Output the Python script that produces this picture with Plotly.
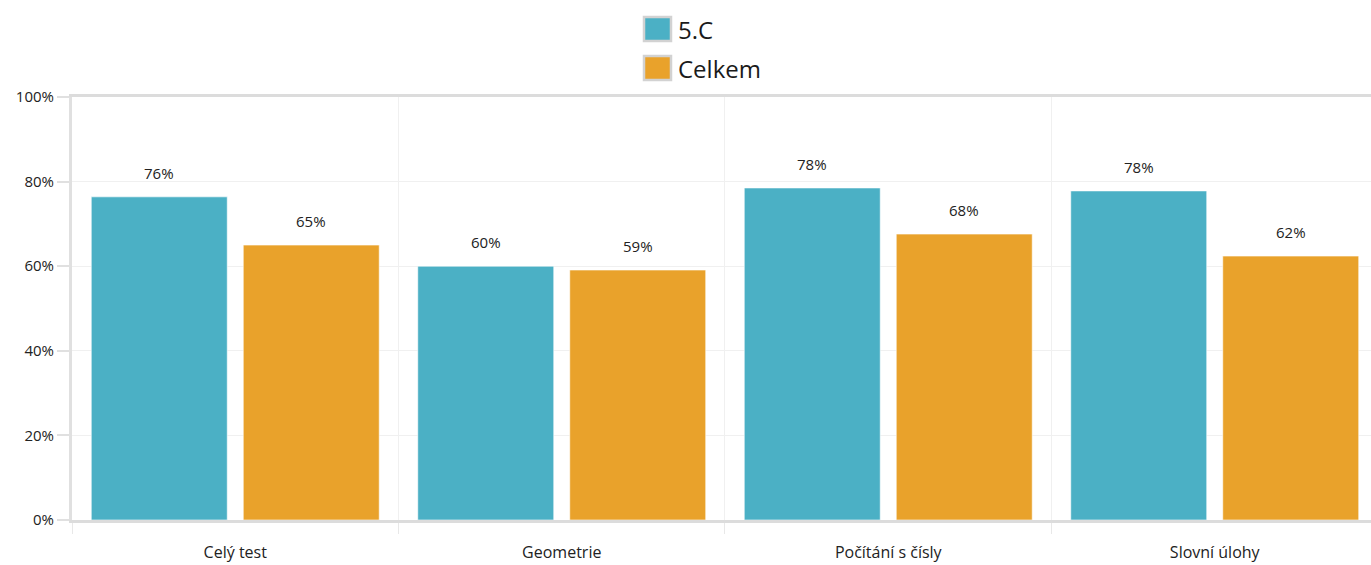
import plotly.graph_objects as go

categories = ["Celý test", "Geometrie", "Počítání s čísly", "Slovní úlohy"]
series_names = ["5.C", "Celkem"]
values_5c = [76.4, 60.0, 78.5, 77.8]
values_celkem = [65.0, 59.1, 67.6, 62.4]
y_ticks = [0, 20, 40, 60, 80, 100]
y_tick_labels = ["0%", "20%", "40%", "60%", "80%", "100%"]

colors = ["#4BB0C5", "#E9A22B"]
FONT = "'Open Sans', 'Noto Sans', sans-serif"

W, H = 1371, 565
L, R, T, B = 72, 0, 97, 45
PW, PH = W - L - R, H - T - B
X_MAX = 3.4786                      # plot is cut at the right edge
CAT_W = PW / (X_MAX + 0.5)          # pixels per category
BAR_W = 0.4165                      # bar width in category units
BAR_OFFSETS = [-0.441, 0.0245]      # bar left edges relative to category centre


def px_x(X):
    return (X - L) / PW


def px_y(Y):
    return 1 - (Y - T) / PH


fig = go.Figure()
annotations = []
for name, vals, col, off in zip(series_names, [values_5c, values_celkem], colors, BAR_OFFSETS):
    fig.add_trace(go.Bar(
        x=categories, y=vals, name=name,
        width=BAR_W, offset=off,
        marker=dict(color=col, line=dict(color="rgba(255,255,255,0.6)", width=1)),
        hoverinfo="skip",
        showlegend=False,
    ))
    shift = (off + BAR_W / 2) * CAT_W
    for c, v in zip(categories, vals):
        annotations.append(dict(
            x=c, y=v, xref="x", yref="y", text=f"{round(v)}%",
            showarrow=False, xshift=shift, yshift=24, yanchor="middle",
            font=dict(family=FONT, size=15, color="#222"),
        ))

# legend drawn at top centre
shapes = []
for i, (name, col) in enumerate(zip(series_names, colors)):
    cy = 29 + i * 39
    shapes.append(dict(
        type="rect", xref="paper", yref="paper",
        x0=px_x(644), x1=px_x(671), y0=px_y(cy - 12), y1=px_y(cy + 12),
        fillcolor=col, line=dict(color="#d2d2d2", width=2.5), layer="above",
    ))
    annotations.append(dict(
        x=px_x(676), y=px_y(cy + 1), xref="paper", yref="paper", text=name,
        showarrow=False, xanchor="left", yanchor="middle",
        font=dict(family=FONT, size=24, color="#1a1a1a"),
    ))

fig.update_layout(
    width=W, height=H,
    margin=dict(l=L, r=R, t=T, b=B),
    paper_bgcolor="white", plot_bgcolor="white",
    barmode="overlay",
    font=dict(family=FONT, color="#222"),
    showlegend=False,
    annotations=annotations, shapes=shapes,
    xaxis=dict(
        type="category", categoryorder="array", categoryarray=categories,
        range=[-0.5, X_MAX],
        tickson="boundaries", ticks="outside", ticklen=11, tickcolor="#e8e8e8", tickwidth=1,
        ticklabelstandoff=16,
        showgrid=True, gridcolor="#f0f0f0", gridwidth=1,
        showline=True, linecolor="#dcdcdc", linewidth=3, mirror=True,
        tickfont=dict(family=FONT, size=16, color="#222"),
        fixedrange=True,
    ),
    yaxis=dict(
        range=[0, 100], tickvals=y_ticks, ticktext=y_tick_labels,
        ticks="outside", ticklen=12, tickcolor="#e0e0e0", tickwidth=2,
        showgrid=True, gridcolor="#f0f0f0", gridwidth=1,
        showline=True, linecolor="#e0e0e0", linewidth=3,
        zeroline=False,
        tickfont=dict(family=FONT, size=15, color="#222"),
        fixedrange=True,
    ),
)

fig.write_html(
    "out.html",
    config={"displayModeBar": False},
    post_script="document.body.style.margin='0px';document.body.style.overflow='hidden';",
)
